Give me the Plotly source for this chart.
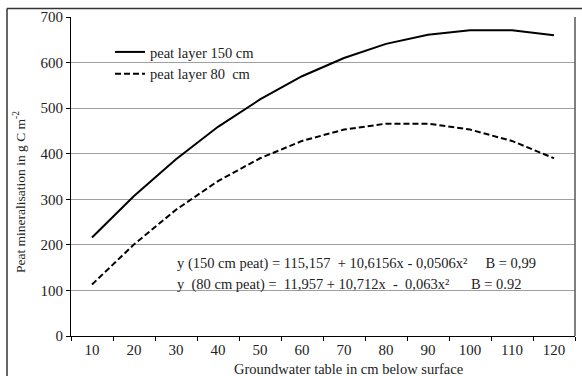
import plotly.graph_objects as go

categories = ["10", "20", "30", "40", "50", "60", "70", "80", "90", "100", "110", "120"]
peat_150 = [216, 307, 388, 459, 519, 570, 610, 641, 661, 671, 671, 660]
peat_80 = [113, 201, 277, 340, 390, 428, 453, 466, 466, 453, 428, 390]
y_ticks = [0, 100, 200, 300, 400, 500, 600, 700]

FONT = "Liberation Serif"
TXT = "#222222"

fig = go.Figure()
fig.add_trace(go.Scatter(x=categories, y=peat_150, mode="lines", name="peat layer 150 cm",
                         line=dict(color="black", width=2)))
fig.add_trace(go.Scatter(x=categories, y=peat_80, mode="lines", name="peat layer 80  cm",
                         line=dict(color="black", width=2, dash="6px,3px")))

W, H = 582, 376
L, R, T, B = 71, 7, 17, 40
pw = W - L - R
ph = H - T - B

def px(x):
    return (x - L) / pw

def py(y):
    return (H - B - y) / ph

fig.update_layout(
    width=W, height=H,
    margin=dict(l=L, r=R, t=T, b=B),
    paper_bgcolor="white", plot_bgcolor="white",
    font=dict(family=FONT, size=14, color=TXT),
    showlegend=True,
    legend=dict(x=px(110), y=py(36), xanchor="left", yanchor="top",
                bgcolor="rgba(0,0,0,0)", font=dict(family=FONT, size=14.5, color=TXT),
                tracegroupgap=0, itemwidth=30),
    xaxis=dict(type="category", range=[-0.5, 11.5], showgrid=False,
               showline=True, linecolor="black", linewidth=1,
               ticks="outside", ticklen=4, tickcolor="black", tickson="boundaries",
               tickfont=dict(family=FONT, size=15, color=TXT)),
    yaxis=dict(range=[0, 700], tickvals=y_ticks, showgrid=True, gridcolor="#a0a0a0", gridwidth=1,
               zeroline=False, showline=True, linecolor="black", linewidth=1,
               ticks="outside", ticklen=4, tickcolor="black",
               tickfont=dict(family=FONT, size=15, color=TXT)),
)

fig.add_shape(type="line", xref="paper", yref="paper", x0=1, x1=1, y0=0, y1=1,
              line=dict(color="#555555", width=1.5))
fig.add_shape(type="line", xref="paper", yref="paper", x0=px(7), x1=px(582), y0=py(8.5), y1=py(8.5),
              line=dict(color="#333333", width=1.5))
fig.add_shape(type="line", xref="paper", yref="paper", x0=px(7), x1=px(7), y0=py(8.5), y1=py(376),
              line=dict(color="#333333", width=1.5))

fig.add_annotation(xref="paper", yref="paper", x=px(19), y=py(192), xanchor="center", yanchor="middle",
                   text="Peat mineralisation in g C m<sup>-2</sup>", textangle=-90, showarrow=False,
                   font=dict(family=FONT, size=13.5, color=TXT))
fig.add_annotation(xref="paper", yref="paper", x=px(348), y=py(369), xanchor="center", yanchor="middle",
                   text="Groundwater table in cm below surface", showarrow=False,
                   font=dict(family=FONT, size=14.5, color=TXT))
fig.add_annotation(xref="paper", yref="paper", x=px(175), y=py(263), xanchor="left", yanchor="middle",
                   text="y (150 cm peat) = 115,157  + 10,6156x - 0,0506x²     B = 0,99", showarrow=False,
                   font=dict(family=FONT, size=14.5, color=TXT))
fig.add_annotation(xref="paper", yref="paper", x=px(175), y=py(284), xanchor="left", yanchor="middle",
                   text="y  (80 cm peat) =  11,957 + 10,712x  -  0,063x²      B = 0.92", showarrow=False,
                   font=dict(family=FONT, size=14.5, color=TXT))

fig.write_html("out.html")
